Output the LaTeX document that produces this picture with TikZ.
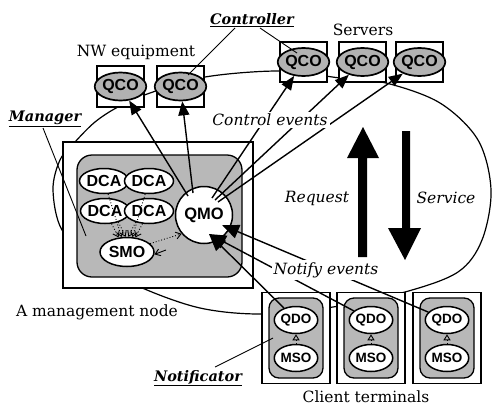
\documentclass[tikz,border=0pt]{standalone}
\usepackage{fontspec}
\setmainfont{DejaVu Serif}
\newfontfamily\lsans{Liberation Sans}
\usetikzlibrary{shapes.geometric,arrows.meta,calc}
\begin{document}
\begin{tikzpicture}[x=1pt,y=-1pt,
  eqbox/.style={draw,line width=1.6pt,fill=white,minimum width=47pt,minimum height=41pt,inner sep=0},
  qco/.style={ellipse,draw,line width=1.7pt,fill=black!30,minimum width=42pt,minimum height=28pt,inner sep=0,font=\lsans\bfseries\fontsize{16}{16}\selectfont},
  agent/.style={ellipse,draw,line width=1.5pt,fill=white,minimum width=40pt,minimum height=25pt,inner sep=0,font=\lsans\bfseries\fontsize{16}{16}\selectfont},
  small/.style={ellipse,draw,line width=1.5pt,fill=white,minimum width=35pt,minimum height=27pt,inner sep=0,font=\lsans\bfseries\fontsize{13.5}{13}\selectfont},
  outerbox/.style={draw,line width=1.5pt,fill=white,inner sep=0},
  innerbox/.style={draw,line width=1.3pt,fill=black!28,rounded corners=10pt,inner sep=0},
  lbl/.style={font=\fontsize{15.5}{16}\selectfont,inner sep=1pt},
  ilbl/.style={font=\itshape\fontsize{15.5}{16}\selectfont,inner sep=2pt,fill=white},
  blbl/.style={font=\bfseries\itshape\fontsize{14.5}{15}\selectfont,inner sep=1pt},
  ctrl/.style={line width=1.4pt,-{Triangle[length=14pt,width=11pt]}},
  notif/.style={line width=1.4pt,-{Triangle[length=17pt,width=14pt]}},
  ptr/.style={line width=0.9pt},
  dotarr/.style={dotted,line width=0.9pt,-{Straight Barb[length=5pt,width=7pt]}}
]
\useasboundingbox (0,0) rectangle (492,407);

% big enclosing loop
\draw[line width=1.2pt] plot[smooth cycle,tension=0.55] coordinates {
 (118,107) (150,93) (205,77) (280,71) (340,78) (386,83) (440,103) (478,140)
 (491,190) (482,240) (458,272) (405,292) (333,307) (262,314) (200,308)
 (140,287) (95,262) (62,230) (53,190) (60,160) (75,142) (95,122)};

% NW equipment
\node[eqbox] (nw1) at (120.5,86.5) {};
\node[qco] (qcoA) at (120.5,86.5) {QCO};
\node[eqbox] (nw2) at (180.5,86.5) {};
\node[qco] (qcoB) at (180.5,86.5) {QCO};
% Servers
\node[eqbox,minimum height=40pt] (sv1) at (303.5,62) {};
\node[qco] (qcoC) at (303.5,62) {QCO};
\node[eqbox,minimum height=40pt] (sv2) at (362.5,62) {};
\node[qco] (qcoD) at (362.5,62) {QCO};
\node[eqbox,minimum height=40pt] (sv3) at (419.5,62) {};
\node[qco] (qcoE) at (419.5,62) {QCO};

% Management node
\node[outerbox,minimum width=190pt,minimum height=146pt] (mgrbox) at (158,215) {};
\node[innerbox,rounded corners=15pt,minimum width=165pt,minimum height=122pt] (mgrin) at (159.5,216) {};
\node[agent] (dca1) at (104,181) {DCA};
\node[agent] (dca2) at (149,181) {DCA};
\node[agent] (dca3) at (105,211) {DCA};
\node[agent] (dca4) at (149,211) {DCA};
\node[agent,minimum width=54pt,minimum height=29pt] (smo) at (127,252) {SMO};
\node[circle,draw,line width=1.5pt,fill=white,minimum size=57pt,inner sep=0,font=\lsans\bfseries\fontsize{16.5}{16}\selectfont] (qmo) at (204,215) {QMO};

\draw[dotarr] (dca1) -- (smo.110);
\draw[dotarr] (dca2) -- (smo.70);
\draw[dotarr] (dca3) -- (smo.120);
\draw[dotarr] (dca4) -- (smo.60);
\draw[dotarr] (dca3.-40) -- (smo.95);
\draw[dotarr] (dca4.-140) -- (smo.85);
\draw[dotarr] (smo.20) -- (qmo.-140);
\coordinate (smoin) at (166,250);
\draw[ptr,-{Straight Barb[length=5pt,width=7pt]}] (smoin) -- (smo.-5);

% Client terminals
\foreach \i/\x in {1/296,2/371,3/447}{
  \node[outerbox,minimum width=68pt,minimum height=91pt] (ct\i) at (\x,338) {};
  \node[innerbox,minimum width=54pt,minimum height=80pt] (ctin\i) at (\x,338) {};
  \node[small] (qdo\i) at (\x,320) {QDO};
  \node[small] (mso\i) at (\x,358) {MSO};
  \draw[dotted,line width=0.9pt,-{Triangle[open,length=6pt,width=7pt]}] (mso\i) -- (qdo\i);
}

% control events from QMO
\coordinate (qa) at (188,196);
\coordinate (qb) at (193,193);
\coordinate (qc) at (212,198);
\coordinate (qd) at (215,200);
\coordinate (qe) at (218,202);
\draw[ctrl] (qa) -- (qcoA);
\draw[ctrl] (qb) -- (qcoB);
\draw[ctrl] (qc) -- (qcoC);
\draw[ctrl] (qd) -- (qcoD);
\draw[ctrl] (qe) -- (qcoE);

% notify events to QMO
\coordinate (tipA) at (222,225);
\coordinate (tipB) at (209,234);
\draw[notif] (qdo3) -- (tipA);
\draw[notif] (qdo2) -- (tipB);
\draw[notif] (qdo1) -- (tipB);

% big request / service arrows
\fill (358,257) -- (358,158) -- (347,158) -- (363,127) -- (379,158) -- (367,158) -- (367,257) -- cycle;
\fill (402,131) -- (402,228) -- (388,228) -- (405,260) -- (421,228) -- (410,228) -- (410,131) -- cycle;

% labels
\node[lbl] (nwlbl) at (136,52) {NW equipment};
\node[lbl] (svlbl) at (363,30) {Servers};
\node[lbl] (amn) at (97,312) {A management node};
\node[lbl] (ctlbl) at (366,397) {Client terminals};
\node[ilbl] (cev) at (270,120) {Control events};
\node[ilbl] (nev) at (326,270) {Notify events};
\node[ilbl,fill=none] (req) at (317,198) {Request};
\node[ilbl,fill=none] (svc) at (446,198) {Service};
\node[blbl] (ctl) at (252,20) {\underline{Controller}};
\node[blbl] (mgr) at (45,119) {\underline{Manager}};
\node[blbl] (ntf) at (198,378) {\underline{Notificator}};

% label pointers
\coordinate (ctlA) at (235,28);
\coordinate (ctlB) at (260,28);
\coordinate (ctlAend) at (188,75);
\coordinate (ctlBend) at (297,53);
\draw[ptr] (ctlA) -- (ctlAend);
\draw[ptr] (ctlB) -- (ctlBend);
\coordinate (mgrA) at (43,128);
\coordinate (mgrEnd) at (86,236);
\draw[ptr] (mgrA) -- (mgrEnd);
\coordinate (ntfA) at (215,367);
\coordinate (ntfEnd) at (273,338);
\draw[ptr] (ntfA) -- (ntfEnd);
\end{tikzpicture}
\end{document}
